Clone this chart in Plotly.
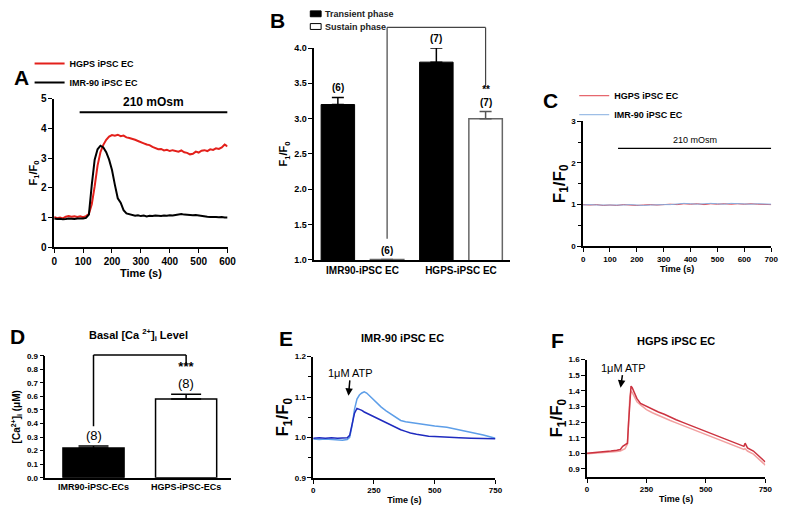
import plotly.graph_objects as go

# ---- data ----
# A: hypotonic response, 0-600 s
time_a = list(range(0, 601, 10))
hgps_a = [1.02, 0.98, 1.00, 0.97, 1.03, 1.05, 1.03, 1.04, 1.02, 1.04, 1.01, 1.05, 1.12, 1.45, 2.05,
          2.75, 3.20, 3.45, 3.62, 3.73, 3.78, 3.76, 3.79, 3.74, 3.76, 3.70, 3.68, 3.66, 3.62, 3.58,
          3.55, 3.50, 3.46, 3.44, 3.38, 3.35, 3.30, 3.31, 3.26, 3.28, 3.24, 3.27, 3.25, 3.22, 3.26,
          3.20, 3.18, 3.13, 3.15, 3.22, 3.19, 3.25, 3.27, 3.24, 3.30, 3.28, 3.33, 3.31, 3.36, 3.46, 3.40]
imr_a = [0.97, 0.95, 0.96, 0.94, 0.95, 0.97, 0.96, 0.95, 0.97, 0.96, 0.97, 0.99, 1.10, 2.10, 2.95,
         3.30, 3.42, 3.36, 3.20, 2.95, 2.60, 2.10, 1.65, 1.50, 1.25, 1.14, 1.12, 1.08, 1.06, 1.08,
         1.05, 1.07, 1.04, 1.06, 1.05, 1.07, 1.06, 1.05, 1.07, 1.06, 1.08, 1.07, 1.09, 1.10, 1.12,
         1.10, 1.09, 1.10, 1.08, 1.09, 1.07, 1.05, 1.04, 1.03, 1.02, 1.03, 1.02, 1.01, 1.02, 1.00, 1.00]

# B: transient / sustain phase
cats_b = ["IMR90-iPSC EC", "HGPS-iPSC EC"]
series_b = ["Transient phase", "Sustain phase"]
transient_b = [3.2, 3.8]
transient_err_b = [0.1, 0.2]
sustain_b = [1.005, 3.0]
sustain_err_b = [0.0, 0.1]
n_transient_b = ["(6)", "(7)"]
n_sustain_b = ["(6)", "**<br>(7)"]

# C: no response to 210 mOsm
time_c = list(range(0, 701, 25))
hgps_c = [1.00, 0.99, 1.00, 0.98, 0.99, 0.98, 1.00, 0.99, 0.98, 0.99, 1.00, 0.99, 1.00, 1.01, 1.00,
          1.02, 1.01, 1.02, 1.00, 1.02, 1.01, 1.02, 1.01, 1.02, 1.01, 1.02, 1.01, 1.00, 1.00]
imr_c = [0.99, 1.00, 0.99, 0.99, 0.98, 0.99, 0.99, 1.00, 0.99, 0.98, 0.99, 1.00, 1.00, 1.00, 1.01,
         1.03, 1.02, 1.01, 1.02, 1.03, 1.02, 1.01, 1.03, 1.02, 1.02, 1.01, 1.02, 1.01, 1.01]

# D: basal Ca2+
cats_d = ["IMR90-iPSC-ECs", "HGPS-iPSC-ECs"]
basal_d = [0.22, 0.58]
basal_err_d = [0.015, 0.035]
n_d = ["(8)", "<b>***</b><br>(8)"]

# E: IMR-90 ATP response
time_e = [0, 25, 50, 75, 100, 120, 140, 150, 160, 170, 180, 190, 200, 210, 220, 240, 260, 280, 300,
          320, 340, 360, 380, 400, 425, 450, 475, 500, 550, 600, 650, 700, 750]
imr_e1 = [0.996, 0.995, 0.996, 0.995, 0.994, 0.993, 0.995, 1.000, 1.030, 1.070, 1.095, 1.105, 1.110,
          1.113, 1.110, 1.098, 1.085, 1.075, 1.066, 1.058, 1.050, 1.042, 1.039, 1.037, 1.034, 1.033,
          1.030, 1.028, 1.025, 1.019, 1.013, 1.006, 0.998]
imr_e2 = [0.998, 0.999, 0.998, 0.999, 0.998, 0.998, 0.999, 1.005, 1.030, 1.060, 1.072, 1.070, 1.067,
          1.063, 1.060, 1.055, 1.048, 1.042, 1.036, 1.030, 1.024, 1.019, 1.015, 1.011, 1.008, 1.005,
          1.003, 1.002, 1.000, 0.999, 0.998, 0.998, 0.997]

# F: HGPS ATP response
time_f = [0, 25, 50, 75, 100, 125, 140, 150, 160, 170, 175, 180, 185, 190, 200, 210, 225, 250, 275,
          300, 325, 350, 375, 400, 450, 500, 550, 600, 625, 650, 660, 665, 675, 700, 725, 750]
hgps_f1 = [1.000, 1.003, 1.008, 1.012, 1.015, 1.020, 1.025, 1.045, 1.055, 1.065, 1.20, 1.36, 1.43,
           1.42, 1.38, 1.35, 1.32, 1.30, 1.28, 1.265, 1.25, 1.23, 1.215, 1.20, 1.17, 1.14, 1.11,
           1.08, 1.065, 1.05, 1.045, 1.065, 1.035, 1.015, 0.98, 0.945]
hgps_f2 = [0.998, 1.000, 1.004, 1.008, 1.010, 1.012, 1.015, 1.020, 1.030, 1.06, 1.22, 1.36, 1.40,
           1.39, 1.36, 1.33, 1.31, 1.28, 1.26, 1.245, 1.23, 1.21, 1.195, 1.18, 1.15, 1.12, 1.09,
           1.06, 1.045, 1.03, 1.025, 1.03, 1.015, 0.995, 0.96, 0.925]

# ---- layout helpers (pixel -> paper) ----
W, H = 794, 517
FONT = "Liberation Sans, Arial, sans-serif"


def xdom(left, right):
    return [left / W, right / W]


def ydom(top, bottom):
    return [1 - bottom / H, 1 - top / H]


def ax_style(size, **kw):
    d = dict(showline=True, linecolor="black", linewidth=1.5, ticks="outside", ticklen=4,
             tickwidth=1.2, tickcolor="black", showgrid=False, zeroline=False,
             tickfont=dict(family=FONT, size=size, color="black", weight="bold"))
    d.update(kw)
    return d


def ttl(text, size, standoff=4):
    return dict(text=text, font=dict(family=FONT, size=size, color="black", weight="bold"),
                standoff=standoff)


def fnt(size, bold=False, color="black"):
    return dict(family=FONT, size=size, color=color, weight="bold" if bold else "normal")


fig = go.Figure()

# A
fig.add_trace(go.Scatter(x=time_a, y=hgps_a, mode="lines", name="HGPS iPSC EC",
                         line=dict(color="#e3201b", width=2), xaxis="x", yaxis="y", legend="legend"))
fig.add_trace(go.Scatter(x=time_a, y=imr_a, mode="lines", name="IMR-90 iPSC EC",
                         line=dict(color="black", width=2), xaxis="x", yaxis="y", legend="legend"))

# B
fig.add_trace(go.Bar(x=cats_b, y=transient_b, name=series_b[0], width=0.34, offset=-0.42,
                     showlegend=False,
                     marker=dict(color="black", line=dict(color="black", width=1)),
                     error_y=dict(type="data", array=transient_err_b, arrayminus=[0, 0],
                                  color="black", thickness=1.5, width=6),
                     xaxis="x2", yaxis="y2"))
fig.add_trace(go.Bar(x=cats_b, y=sustain_b, name=series_b[1], width=0.34, offset=0.08,
                     showlegend=False,
                     marker=dict(color="white", line=dict(color="#666666", width=1.5)),
                     error_y=dict(type="data", array=sustain_err_b, arrayminus=[0, 0],
                                  color="#555555", thickness=1.5, width=6),
                     xaxis="x2", yaxis="y2"))

# C
fig.add_trace(go.Scatter(x=time_c, y=hgps_c, mode="lines", name="HGPS iPSC EC",
                         line=dict(color="#e0404a", width=1), xaxis="x3", yaxis="y3", legend="legend3"))
fig.add_trace(go.Scatter(x=time_c, y=imr_c, mode="lines", name="IMR-90 iPSC EC",
                         line=dict(color="#86aee0", width=1), xaxis="x3", yaxis="y3", legend="legend3"))

# D
fig.add_trace(go.Bar(x=cats_d, y=basal_d, width=0.66, showlegend=False,
                     marker=dict(color=["black", "white"], line=dict(color="black", width=1.5)),
                     error_y=dict(type="data", array=basal_err_d, arrayminus=[0, 0],
                                  color="black", thickness=1.5, width=15),
                     xaxis="x4", yaxis="y4"))

# E
fig.add_trace(go.Scatter(x=time_e, y=imr_e1, mode="lines", showlegend=False,
                         line=dict(color="#5d9ee8", width=1.5), xaxis="x5", yaxis="y5"))
fig.add_trace(go.Scatter(x=time_e, y=imr_e2, mode="lines", showlegend=False,
                         line=dict(color="#1f2bbf", width=1.5), xaxis="x5", yaxis="y5"))

# F
fig.add_trace(go.Scatter(x=time_f, y=hgps_f2, mode="lines", showlegend=False,
                         line=dict(color="#f2a0a0", width=1.5), xaxis="x6", yaxis="y6"))
fig.add_trace(go.Scatter(x=time_f, y=hgps_f1, mode="lines", showlegend=False,
                         line=dict(color="#cc3340", width=1.5), xaxis="x6", yaxis="y6"))

legend_common = dict(xanchor="left", yanchor="top", bgcolor="rgba(0,0,0,0)", borderwidth=0,
                     tracegroupgap=0, itemclick=False)

fig.update_layout(
    width=W, height=H, margin=dict(l=0, r=0, t=0, b=0),
    paper_bgcolor="white", plot_bgcolor="white",
    font=dict(family=FONT, color="black"),
    barmode="overlay",
    # A
    xaxis=ax_style(10, domain=xdom(52, 228), range=[0, 600], dtick=100, anchor="y",
                   title=ttl("Time (s)", 11, 3)),
    yaxis=ax_style(10, domain=ydom(95, 247), range=[0, 5], dtick=1, anchor="x",
                   title=ttl("F<sub>1</sub>/F<sub>0</sub>", 11, 1)),
    # B
    xaxis2=ax_style(10, domain=xdom(316, 515), range=[-0.49, 1.5], anchor="y2", ticks=""),
    yaxis2=ax_style(9, domain=ydom(43, 260), range=[1, 4], dtick=0.5, tickformat=".1f",
                    anchor="x2", title=ttl("F<sub>1</sub>/F<sub>0</sub>", 11, 4)),
    # C
    xaxis3=ax_style(8, domain=xdom(589, 780), range=[0, 700], dtick=100, anchor="y3",
                    title=ttl("Time (s)", 9, 2)),
    yaxis3=ax_style(8, domain=ydom(118, 246), range=[0, 3], dtick=1, anchor="x3",
                    minor=dict(dtick=0.5, ticks="outside", ticklen=3, tickcolor="black"),
                    title=ttl("F<sub>1</sub>/F<sub>0</sub>", 17, 0)),
    # D
    xaxis4=ax_style(9, domain=xdom(43, 232), range=[-0.52, 1.49], anchor="y4", ticks=""),
    yaxis4=ax_style(8, domain=ydom(358, 483), range=[0, 0.9], dtick=0.1, tickformat=".1f",
                    anchor="x4", title=ttl("[Ca<sup>2+</sup>]<sub>i</sub> (μM)", 10, 4)),
    # E
    xaxis5=ax_style(8, domain=xdom(315, 500), range=[0, 750], dtick=250, anchor="y5",
                    title=ttl("Time (s)", 9, 3)),
    yaxis5=ax_style(8, domain=ydom(359, 483), range=[0.9, 1.2], dtick=0.1, tickformat=".1f",
                    anchor="x5", minor=dict(dtick=0.05, ticks="outside", ticklen=3, tickcolor="black"),
                    title=ttl("F<sub>1</sub>/F<sub>0</sub>", 17, 0)),
    # F
    xaxis6=ax_style(8, domain=xdom(593, 774), range=[0, 750], dtick=250, anchor="y6",
                    title=ttl("Time (s)", 9, 3)),
    yaxis6=ax_style(8, domain=ydom(362, 482), range=[0.85, 1.6], dtick=0.1, tick0=0.9,
                    tickformat=".1f", anchor="x6",
                    title=ttl("F<sub>1</sub>/F<sub>0</sub>", 17, 0)),
    legend=dict(x=27 / W, y=1 - 44 / H, font=fnt(9, True), **legend_common),
    legend3=dict(x=580 / W, y=1 - 77 / H, font=fnt(9, True), **legend_common),
)

shapes = []
annotations = []

# B legend (drawn by hand: plotly's legend rows are too tall for this spacing)
for (top, bottom), name, fill in [((5, 11), series_b[0], "black"), ((18, 24), series_b[1], "white")]:
    shapes.append(dict(type="rect", xref="paper", yref="paper", x0=312 / W, x1=323 / W,
                       y0=1 - bottom / H, y1=1 - top / H, fillcolor=fill,
                       line=dict(color="black", width=1)))
    annotations.append(dict(xref="paper", yref="paper", x=325 / W, y=1 - (top + bottom) / 2 / H,
                            xanchor="left", yanchor="middle", text=name, showarrow=False,
                            font=fnt(9, True, "#222")))

# stimulus bars
shapes.append(dict(type="line", xref="x", yref="y", x0=88, x1=600, y0=4.55, y1=4.55,
                   line=dict(color="black", width=2)))
annotations.append(dict(xref="x", yref="y", x=345, y=4.55, xanchor="center", yanchor="bottom",
                        yshift=1, text="210 mOsm", showarrow=False, font=fnt(12, True)))
shapes.append(dict(type="line", xref="x3", yref="y3", x0=130, x1=700, y0=2.35, y1=2.35,
                   line=dict(color="black", width=1.2)))
annotations.append(dict(xref="x3", yref="y3", x=415, y=2.35, xanchor="center", yanchor="bottom",
                        yshift=1, text="210 mOsm", showarrow=False, font=fnt(9)))

# B labels and bracket
for i, c in enumerate(cats_b):
    annotations.append(dict(xref="x2", yref="y2", x=i - 0.25, y=transient_b[i] + transient_err_b[i],
                            xanchor="center", yanchor="bottom", yshift=2, text=n_transient_b[i],
                            showarrow=False, font=fnt(10, True)))
    annotations.append(dict(xref="x2", yref="y2", x=i + 0.25, y=sustain_b[i] + sustain_err_b[i],
                            xanchor="center", yanchor="bottom", yshift=2, text=n_sustain_b[i],
                            showarrow=False, font=fnt(10, True)))


def frac(v, lo, hi):
    return (v - lo) / (hi - lo)


top_b = 1.097
for x0, y0, x1, y1 in [(0.25, frac(1.30, 1, 4), 0.25, top_b), (0.25, top_b, 1.25, top_b),
                       (1.25, top_b, 1.25, frac(3.46, 1, 4))]:
    shapes.append(dict(type="line", xref="x2", yref="y2 domain", x0=x0, x1=x1, y0=y0, y1=y1,
                       line=dict(color="#444", width=1.2)))

# D labels and bracket
for i, c in enumerate(cats_d):
    annotations.append(dict(xref="x4", yref="y4", x=i, y=basal_d[i] + basal_err_d[i],
                            xanchor="center", yanchor="bottom", yshift=1, text=n_d[i],
                            showarrow=False, font=fnt(13)))
top_d = frac(0.906, 0, 0.9)
for x0, y0, x1, y1 in [(0, frac(0.38, 0, 0.9), 0, top_d), (0, top_d, 1, top_d),
                       (1, top_d, 1, frac(0.83, 0, 0.9))]:
    shapes.append(dict(type="line", xref="x4", yref="y4 domain", x0=x0, x1=x1, y0=y0, y1=y1,
                       line=dict(color="black", width=1.5)))

# ATP arrows
annotations.append(dict(xref="x5", yref="y5", x=145, y=1.103, ax=2, ay=-23, text="1μM ATP",
                        showarrow=True, arrowhead=2, arrowsize=1, arrowwidth=1.5,
                        arrowcolor="black", font=fnt(11)))
annotations.append(dict(xref="x6", yref="y6", x=141, y=1.42, ax=3, ay=-20, text="1μM ATP",
                        showarrow=True, arrowhead=2, arrowsize=1, arrowwidth=1.5,
                        arrowcolor="black", font=fnt(11)))

# titles
for x, y, t in [(138, 337, "Basal [Ca <sup>2+</sup>]<sub>i</sub> Level"),
                (406, 340, "IMR-90 iPSC EC"), (683, 343, "HGPS iPSC EC")]:
    annotations.append(dict(xref="paper", yref="paper", x=x / W, y=1 - y / H, text=t,
                            xanchor="center", yanchor="middle", showarrow=False, font=fnt(11, True)))

# panel letters
for x, y, t in [(19, 73, "A"), (279, 15, "B"), (556, 97, "C"), (15, 338, "D"),
                (287, 340, "E"), (563, 342, "F")]:
    annotations.append(dict(xref="paper", yref="paper", x=x / W, y=1 - y / H, text=t,
                            xanchor="center", yanchor="middle", showarrow=False, font=fnt(21, True)))

fig.update_layout(shapes=shapes, annotations=annotations)

# drop the default body margin so the 794x517 figure sits flush in the window
fig.write_html("out.html", config={"displayModeBar": False},
               post_script="document.body.style.margin='0';document.body.style.overflow='hidden';")
